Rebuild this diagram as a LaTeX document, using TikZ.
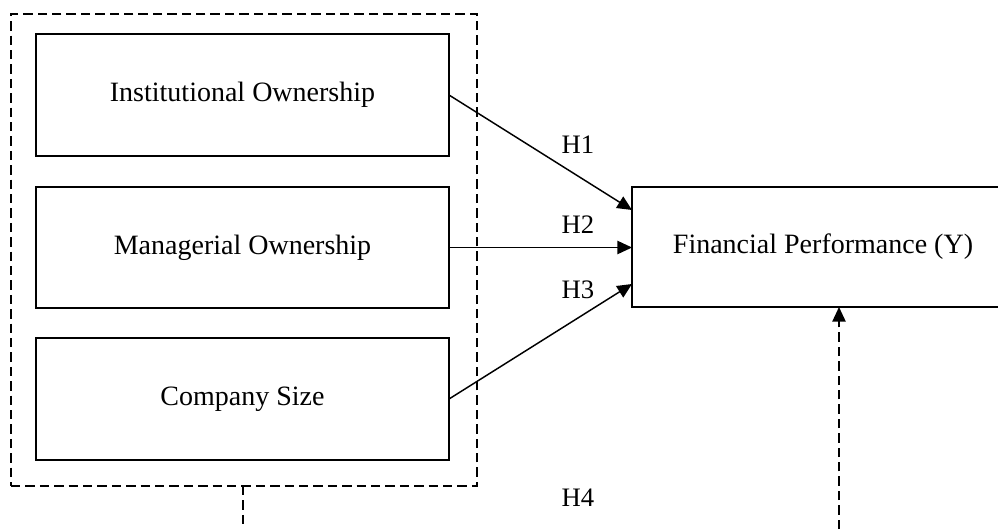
\documentclass[tikz,border=0pt]{standalone}
\usepackage{fontspec}
\setmainfont{Liberation Serif}
\usetikzlibrary{arrows.meta}
\begin{document}
\begin{tikzpicture}[x=0.75pt,y=-0.75pt,
  box/.style={draw,line width=1.1pt,inner sep=0pt,outer sep=0pt,font=\fontsize{21pt}{25pt}\selectfont},
  dashedline/.style={line width=1.1pt,dash pattern=on 7pt off 3.8pt},
  arr/.style={line width=1.1pt,-{Triangle[length=11pt,width=10pt]}},
  lbl/.style={font=\fontsize{20pt}{24pt}\selectfont}]
\useasboundingbox (0,0) rectangle (998,529);
\clip (0,0) rectangle (998,529);
\node[draw,dashedline,inner sep=0pt,outer sep=0pt,minimum width=349.5pt,minimum height=354pt] (group) at (244,250) {};
\node[box,minimum width=309.75pt,minimum height=91.5pt] (io) at (242.5,95) {Institutional Ownership};
\node[box,minimum width=309.75pt,minimum height=90.75pt] (mo) at (242.5,247.5) {Managerial Ownership};
\node[box,minimum width=309.75pt,minimum height=91.5pt] (cs) at (242.5,399) {Company Size};
\node[box,minimum width=286.5pt,minimum height=90pt] (fp) at (823,247) {Financial Performance (Y)};
\draw[arr] (io.east) -- ([yshift=-17.25pt]fp.north west);
\draw[arr] (mo.east) -- (mo.east -| fp.west);
\draw[arr] (cs.east) -- ([yshift=17.25pt]fp.south west);
\node[lbl] (h1) at (578,145) {H1};
\node[lbl] (h2) at (578,225) {H2};
\node[lbl] (h3) at (578,290) {H3};
\node[lbl] (h4) at (578,497.5) {H4};
\coordinate (b1) at (243,529);
\coordinate (b2) at (839,529);
\draw[dashedline] (group.south -| b1) -- (b1);
\draw[dashedline,-{Triangle[length=11pt,width=10pt]}] (b2) -- (b2 |- fp.south);
\end{tikzpicture}
\end{document}
